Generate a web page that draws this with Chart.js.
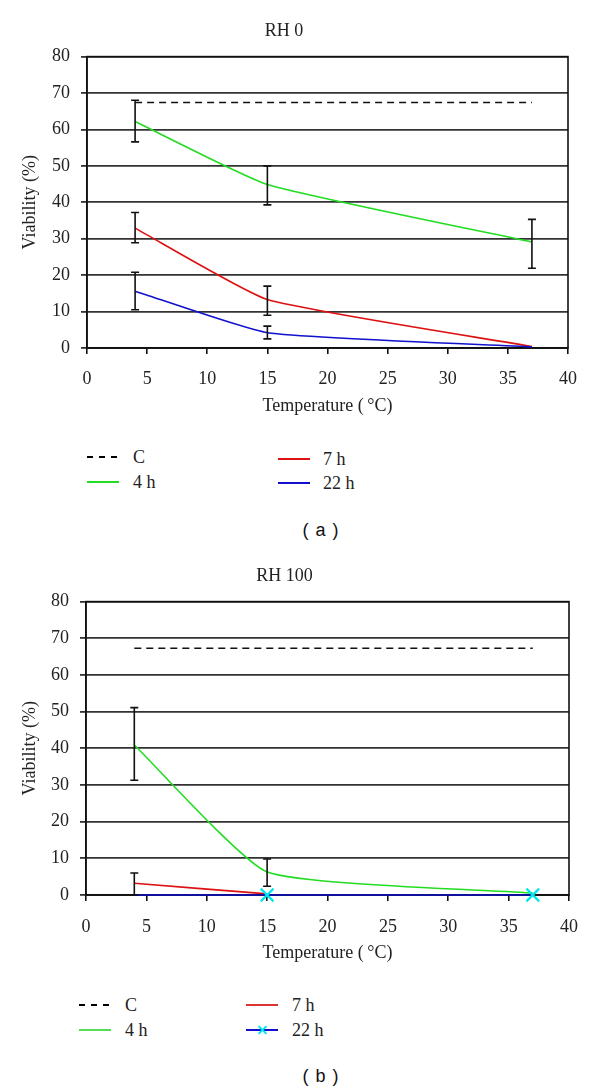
<!DOCTYPE html>
<html>
<head>
<meta charset="utf-8">
<title>Viability vs temperature</title>
<script src="https://cdn.jsdelivr.net/npm/chart.js"></script>
<style>
    body { margin: 0; background: #fff; width: 600px; height: 1091px; position: relative; overflow: hidden; }
    canvas { position: absolute; left: 0; }
    .lg-line { position: absolute; width: 32px; height: 2px; }
    .lg-text { position: absolute; font: 18px "Liberation Serif", serif; color: #222; line-height: 20px; white-space: nowrap; }
    .caption { position: absolute; width: 120px; text-align: center; font: 18px "Liberation Sans", Arial, sans-serif; color: #111; letter-spacing: 1px; line-height: 22px; }
    .xmark { position: absolute; width: 11px; height: 2px; background: #00e5f0; }
</style>
</head>
<body>
<canvas id="chartA" width="600" height="420" style="top:0"></canvas>
<canvas id="chartB" width="600" height="422" style="top:545px"></canvas>

<!-- 범례 (a) -->
<div class="lg-line" style="left:87px; top:456px; background: repeating-linear-gradient(90deg, #000 0 6px, transparent 6px 12px);"></div>
<div class="lg-text" style="left:133px; top:447px;">C</div>
<div class="lg-line" style="left:87px; top:481px; background:#22dd22;"></div>
<div class="lg-text" style="left:133px; top:472px;">4 h</div>
<div class="lg-line" style="left:278px; top:458px; background:#dd1111;"></div>
<div class="lg-text" style="left:323px; top:449px;">7 h</div>
<div class="lg-line" style="left:278px; top:482px; background:#1111cc;"></div>
<div class="lg-text" style="left:323px; top:473px;">22 h</div>
<div class="caption" style="left:261px; top:519px;">( a )</div>

<!-- 범례 (b) -->
<div class="lg-line" style="left:79px; top:1004px; background: repeating-linear-gradient(90deg, #000 0 6px, transparent 6px 12px);"></div>
<div class="lg-text" style="left:125px; top:995px;">C</div>
<div class="lg-line" style="left:79px; top:1029px; background:#55dd55;"></div>
<div class="lg-text" style="left:125px; top:1020px;">4 h</div>
<div class="lg-line" style="left:246px; top:1004px; background:#dd3333;"></div>
<div class="lg-text" style="left:292px; top:995px;">7 h</div>
<div class="lg-line" style="left:246px; top:1029px; background:#1111cc;"></div>
<div class="xmark" style="left:257px; top:1029px; transform:rotate(45deg);"></div>
<div class="xmark" style="left:257px; top:1029px; transform:rotate(-45deg);"></div>
<div class="lg-text" style="left:292px; top:1020px;">22 h</div>
<div class="caption" style="left:261px; top:1065px;">( b )</div>

<script>
    // 온도 (x값)
    const temps = [4, 15, 37];
    const xTicks = { min: 0, max: 40, step: 5 };
    const yTicks = { min: 0, max: 80, step: 10 };

    // (a) RH 0
    const rh0Control = [67.4, 67.4, 67.4];
    const rh0H4 = [62.2, 44.9, 29.1];
    const rh0H4Low = [56.6, 39.3, 21.9];
    const rh0H4High = [68.0, 50.0, 35.3];
    const rh0H7 = [32.9, 13.3, 0.4];
    const rh0H7Low = [28.9, 9.0, null];
    const rh0H7High = [37.2, 17.0, null];
    const rh0H22 = [15.6, 4.2, 0.3];
    const rh0H22Low = [10.5, 2.5, null];
    const rh0H22High = [20.8, 6.0, null];

    // (b) RH 100
    const rh100Control = [67.3, 67.3, 67.3];
    const rh100H4 = [40.9, 6.3, 0.5];
    const rh100H4Low = [31.3, 2.4, null];
    const rh100H4High = [51.1, 9.8, null];
    const rh100H7 = [3.2, 0.3, null];
    const rh100H7Low = [0, null, null];
    const rh100H7High = [6.0, null, null];
    const rh100H22 = [0, 0, 0];

    const serif = '"Liberation Serif", "Times New Roman", serif';

    const toPoints = vals => temps.map((t, i) => ({ x: t, y: vals[i] }));

    // 오차막대
    const errorBarPlugin = {
        id: 'errorBars',
        afterDatasetsDraw(chart) {
            const ctx = chart.ctx;
            const y = chart.scales.y;
            ctx.save();
            ctx.strokeStyle = '#111';
            ctx.lineWidth = 1.6;
            chart.data.datasets.forEach((ds, di) => {
                if (!ds.errLow) return;
                const meta = chart.getDatasetMeta(di);
                meta.data.forEach((pt, i) => {
                    const lo = ds.errLow[i], hi = ds.errHigh[i];
                    if (lo == null || hi == null) return;
                    const yl = y.getPixelForValue(lo), yh = y.getPixelForValue(hi);
                    ctx.beginPath();
                    ctx.moveTo(pt.x, yl); ctx.lineTo(pt.x, yh);
                    ctx.moveTo(pt.x - 4, yl); ctx.lineTo(pt.x + 4, yl);
                    ctx.moveTo(pt.x - 4, yh); ctx.lineTo(pt.x + 4, yh);
                    ctx.stroke();
                });
            });
            ctx.restore();
        }
    };

    // 테두리
    const frameBorder = {
        id: 'frameBorder',
        beforeDatasetsDraw(chart) {
            const a = chart.chartArea, ctx = chart.ctx;
            ctx.save();
            ctx.strokeStyle = '#111';
            ctx.lineWidth = 1.6;
            ctx.strokeRect(a.left, a.top, a.right - a.left, a.bottom - a.top);
            ctx.restore();
        }
    };

    function makeChart(id, title, sets, box) {
        return new Chart(document.getElementById(id), {
            type: 'line',
            data: { datasets: sets },
            plugins: [frameBorder, errorBarPlugin],
            options: {
                responsive: false,
                animation: false,
                layout: { padding: { left: 0, right: box.right, top: 0, bottom: 0 } },
                plugins: {
                    legend: { display: false },
                    tooltip: { enabled: false },
                    title: {
                        display: true,
                        text: title,
                        color: '#222',
                        font: { family: serif, size: 18, weight: 'normal' },
                        padding: { top: 20, bottom: 15 }
                    }
                },
                scales: {
                    x: {
                        type: 'linear',
                        min: xTicks.min, max: xTicks.max,
                        afterFit(s) { s.height = 72; },
                        ticks: { stepSize: xTicks.step, color: '#222', padding: box.tickPad, font: { family: serif, size: 18 } },
                        grid: { drawOnChartArea: false, drawTicks: true, tickLength: 6, color: '#111', lineWidth: 1.6 },
                        border: { color: '#111', width: 1.6 },
                        title: {
                            display: true,
                            text: 'Temperature (\u2009°C)',
                            color: '#222',
                            font: { family: serif, size: 18 },
                            padding: { top: 2, bottom: 3 }
                        }
                    },
                    y: {
                        min: yTicks.min, max: yTicks.max,
                        afterFit(s) { s.width = box.left; },
                        ticks: { stepSize: yTicks.step, color: '#222', padding: 11, font: { family: serif, size: 18 } },
                        grid: { color: '#333', lineWidth: 1.8, tickLength: 6 },
                        border: { color: '#111', width: 1.6 },
                        title: {
                            display: true,
                            text: 'Viability (%)',
                            color: '#222',
                            font: { family: serif, size: 18 },
                            padding: { top: 19, bottom: 2 }
                        }
                    }
                }
            }
        });
    }

    const lineBase = { borderWidth: 1.6, pointRadius: 0, tension: 0.15, fill: false, clip: false };

    makeChart('chartA', 'RH 0', [
        { ...lineBase, label: 'C', data: toPoints(rh0Control), borderColor: '#111', borderDash: [7, 5], tension: 0, order: 3 },
        { ...lineBase, label: '4 h', data: toPoints(rh0H4), borderColor: '#22dd22', errLow: rh0H4Low, errHigh: rh0H4High, order: 2 },
        { ...lineBase, label: '7 h', data: toPoints(rh0H7), borderColor: '#dd1111', errLow: rh0H7Low, errHigh: rh0H7High, order: 1 },
        { ...lineBase, label: '22 h', data: toPoints(rh0H22), borderColor: '#1111cc', errLow: rh0H22Low, errHigh: rh0H22High, order: 0 }
    ], { left: 87, right: 32, tickPad: 14 });

    makeChart('chartB', 'RH 100', [
        { ...lineBase, label: 'C', data: toPoints(rh100Control), borderColor: '#111', borderDash: [7, 5], tension: 0, order: 3 },
        { ...lineBase, label: '4 h', data: toPoints(rh100H4), borderColor: '#22dd22', errLow: rh100H4Low, errHigh: rh100H4High, order: 2 },
        { ...lineBase, label: '7 h', data: toPoints(rh100H7), borderColor: '#dd1111', errLow: rh100H7Low, errHigh: rh100H7High, order: 1 },
        { ...lineBase, label: '22 h', data: toPoints(rh100H22), borderColor: '#1111cc', tension: 0, order: 0,
          pointStyle: 'crossRot', pointRadius: [0, 9, 9], pointBorderColor: '#00e5f0', pointBorderWidth: 2.2 }
    ], { left: 86, right: 31, tickPad: 15 });
</script>
</body>
</html>
